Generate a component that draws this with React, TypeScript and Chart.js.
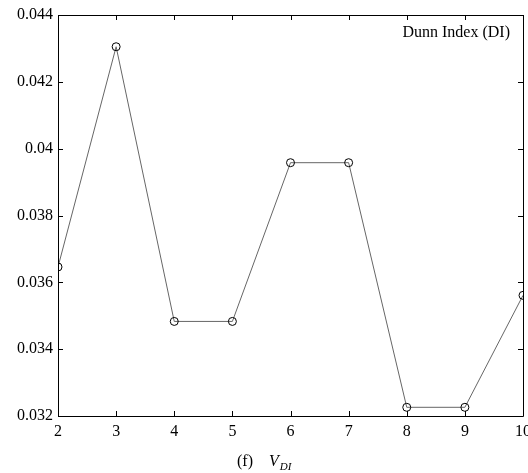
import React, { useEffect, useRef } from "react";
import { Chart, registerables } from "chart.js";

Chart.register(...registerables);

const clusters = [2, 3, 4, 5, 6, 7, 8, 9, 10];
const dunnIndex = [0.03646, 0.04305, 0.03483, 0.03483, 0.03958, 0.03958, 0.03226, 0.03226, 0.03561];
const xTicks = [2, 3, 4, 5, 6, 7, 8, 9, 10];
const yTicks = [0.032, 0.034, 0.036, 0.038, 0.04, 0.042, 0.044];
const legendText = "Dunn Index (DI)";
const captionPrefix = "(f)";
const captionVar = "V";
const captionSub = "DI";

const FONT = "'Liberation Serif', 'Times New Roman', serif";

const framePlugin = {
  id: "frame",
  afterDraw(chart: any) {
    const { ctx, chartArea: a, scales } = chart;
    const xs = scales.x;
    const ys = scales.y;
    ctx.save();
    ctx.strokeStyle = "#000";
    ctx.lineWidth = 1;
    ctx.beginPath();
    ctx.rect(Math.round(a.left) + 0.5, Math.round(a.top) + 0.5, Math.round(a.right - a.left), Math.round(a.bottom - a.top));
    ctx.stroke();
    const tl = 5;
    ctx.beginPath();
    xTicks.forEach((v) => {
      const px = Math.round(xs.getPixelForValue(v)) + 0.5;
      ctx.moveTo(px, a.bottom);
      ctx.lineTo(px, a.bottom - tl);
      ctx.moveTo(px, a.top);
      ctx.lineTo(px, a.top + tl);
    });
    yTicks.forEach((v) => {
      const py = Math.round(ys.getPixelForValue(v)) + 0.5;
      ctx.moveTo(a.left, py);
      ctx.lineTo(a.left + tl, py);
      ctx.moveTo(a.right, py);
      ctx.lineTo(a.right - tl, py);
    });
    ctx.stroke();

    // legend text
    ctx.fillStyle = "#000";
    ctx.font = `16px ${FONT}`;
    ctx.textAlign = "right";
    ctx.textBaseline = "middle";
    ctx.fillText(legendText, a.right - 13, a.top + 18);

    // caption
    ctx.textAlign = "left";
    ctx.textBaseline = "alphabetic";
    const base = 466;
    ctx.font = `16px ${FONT}`;
    ctx.fillText(captionPrefix, 237, base);
    ctx.font = `italic 16px ${FONT}`;
    ctx.fillText(captionVar, 269, base);
    const vw = ctx.measureText(captionVar).width;
    ctx.font = `italic 11px ${FONT}`;
    ctx.fillText(captionSub, 269 + vw + 1, base + 4);
    ctx.restore();
  },
};

export default function App() {
  const ref = useRef<HTMLCanvasElement | null>(null);
  useEffect(() => {
    if (!ref.current) return;
    const chart = new Chart(ref.current, {
      type: "line",
      data: {
        datasets: [
          {
            data: clusters.map((c, i) => ({ x: c, y: dunnIndex[i] })),
            borderColor: "#666",
            borderWidth: 1,
            pointRadius: 4,
            pointBorderColor: "#000",
            pointBackgroundColor: "rgba(0,0,0,0)",
            pointBorderWidth: 1,
            tension: 0,
          },
        ],
      },
      options: {
        animation: false,
        responsive: false,
        layout: { padding: { left: 0, top: 15, right: 4, bottom: 0 } },
        plugins: { legend: { display: false }, tooltip: { enabled: false } },
        scales: {
          x: {
            type: "linear",
            min: 2,
            max: 10,
            afterBuildTicks: (s: any) => {
              s.ticks = xTicks.map((v) => ({ value: v }));
            },
            afterFit: (s: any) => {
              s.height = 57;
              s.paddingLeft = 0;
              s.paddingRight = 0;
            },
            grid: { display: false, drawTicks: false },
            border: { display: false },
            ticks: {
              color: "#000",
              font: { family: FONT, size: 16 },
              padding: 6,
              maxRotation: 0,
              autoSkip: false,
            },
          },
          y: {
            min: 0.032,
            max: 0.044,
            afterBuildTicks: (s: any) => {
              s.ticks = yTicks.map((v) => ({ value: v }));
            },
            afterFit: (s: any) => {
              s.width = 58;
              s.paddingTop = 0;
              s.paddingBottom = 0;
            },
            grid: { display: false, drawTicks: false },
            border: { display: false },
            ticks: {
              color: "#000",
              font: { family: FONT, size: 16 },
              padding: 5,
              autoSkip: false,
              callback: (v: any) => String(Number(Number(v).toFixed(3))),
            },
          },
        },
      },
      plugins: [framePlugin],
    });
    return () => chart.destroy();
  }, []);
  return (
    <div style={{ position: "fixed", left: 0, top: 0, width: 528, height: 473, background: "#fff" }}>
      <canvas ref={ref} width={528} height={473} style={{ width: 528, height: 473 }} />
    </div>
  );
}
